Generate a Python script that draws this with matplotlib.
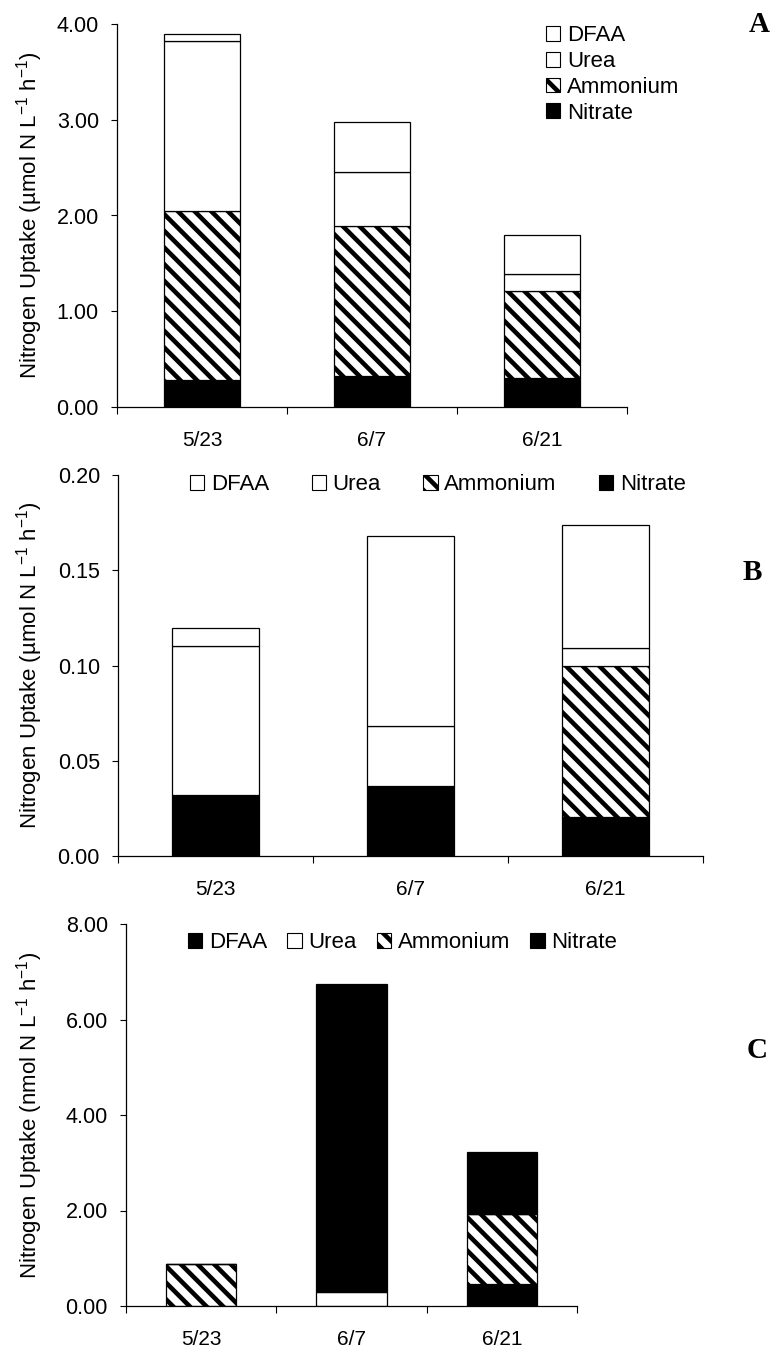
import matplotlib
matplotlib.use("Agg")
import matplotlib.pyplot as plt
from matplotlib.patches import Patch
import numpy as np

plt.rcParams['font.family'] = ['Liberation Sans', 'DejaVu Sans']
plt.rcParams['mathtext.fontset'] = 'custom'
plt.rcParams['mathtext.rm'] = 'Liberation Sans'
plt.rcParams['mathtext.it'] = 'Liberation Sans:italic'
plt.rcParams['hatch.linewidth'] = 3.3

dates = ['5/23', '6/7', '6/21']
series = ['Nitrate', 'Ammonium', 'Urea', 'DFAA']

# panel A: uptake by the total community (umol N L-1 h-1)
a_nitrate = [0.28, 0.32, 0.30]
a_ammonium = [1.77, 1.57, 0.91]
a_urea = [1.77, 0.56, 0.18]
a_dfaa = [0.08, 0.53, 0.41]

# panel B (umol N L-1 h-1)
b_nitrate = [0.032, 0.037, 0.0205]
b_ammonium = [0.0, 0.0, 0.079]
b_urea = [0.078, 0.031, 0.0095]
b_dfaa = [0.0095, 0.100, 0.065]

# panel C (nmol N L-1 h-1)
c_nitrate = [0.0, 0.0, 0.47]
c_ammonium = [0.89, 0.0, 1.46]
c_urea = [0.0, 0.30, 0.0]
c_dfaa = [0.0, 6.44, 1.30]

W, H = 773, 1355
fig = plt.figure(figsize=(W / 100, H / 100), dpi=100)

HATCH = '\\\\'


def px_axes(left, right, top, bottom):
    return fig.add_axes([left / W, 1 - bottom / H, (right - left) / W, (bottom - top) / H])


def stacked(ax, nitrate, ammonium, urea, dfaa, dfaa_color, width=0.45):
    x = np.arange(len(dates))
    styles = [('black', None), ('white', HATCH), ('white', None), (dfaa_color, None)]
    bottom = np.zeros(len(dates))
    for vals, (fc, hatch) in zip([nitrate, ammonium, urea, dfaa], styles):
        ax.bar(x, vals, width, bottom=bottom, color=fc, edgecolor='black',
               linewidth=0.9, hatch=hatch)
        bottom = bottom + np.array(vals)
    ax.set_xlim(-0.5, 2.5)
    ax.set_xticks(x)
    ax.set_xticklabels(dates, fontsize=15)
    ax.set_xticks([-0.5, 0.5, 1.5, 2.5], minor=True)
    ax.tick_params(axis='x', which='major', length=0, pad=17)
    ax.tick_params(axis='x', which='minor', direction='out', length=5, width=0.8)
    ax.tick_params(axis='y', direction='out', length=4, width=0.8, pad=9, labelsize=15.5)
    for s in ['top', 'right']:
        ax.spines[s].set_visible(False)
    for s in ['left', 'bottom']:
        ax.spines[s].set_linewidth(0.9)


def handles(dfaa_color):
    return [Patch(facecolor=dfaa_color, edgecolor='black', linewidth=0.8, label='DFAA'),
            Patch(facecolor='white', edgecolor='black', linewidth=0.8, label='Urea'),
            Patch(facecolor='white', edgecolor='black', linewidth=0.8, hatch=HATCH, label='Ammonium'),
            Patch(facecolor='black', edgecolor='black', linewidth=0.8, label='Nitrate')]


umol = 'Nitrogen Uptake (µmol N L$^{-1}$ h$^{-1}$)'
nmol = 'Nitrogen Uptake (nmol N L$^{-1}$ h$^{-1}$)'
leg_kw = dict(frameon=False, fontsize=16, bbox_transform=fig.transFigure, loc='upper left',
              borderpad=0, borderaxespad=0, handlelength=0.65, handleheight=0.65,
              handletextpad=0.3)

# A
axA = px_axes(117, 627, 24, 407)
stacked(axA, a_nitrate, a_ammonium, a_urea, a_dfaa, 'white')
axA.set_ylim(0, 4)
axA.set_yticks(np.arange(0, 4.01, 1))
axA.set_yticklabels([f'{v:.2f}' for v in np.arange(0, 4.01, 1)])
axA.set_ylabel(umol, fontsize=16)
axA.yaxis.set_label_coords(-0.141, 0.5)
axA.legend(handles=handles('white'), bbox_to_anchor=(546 / W, 1 - 25 / H),
           labelspacing=0.22, **leg_kw)

# B
axB = px_axes(118, 703, 475, 856)
stacked(axB, b_nitrate, b_ammonium, b_urea, b_dfaa, 'white')
axB.set_ylim(0, 0.2)
axB.set_yticks(np.arange(0, 0.201, 0.05))
axB.set_yticklabels([f'{v:.2f}' for v in np.arange(0, 0.201, 0.05)])
axB.set_ylabel(umol, fontsize=16)
axB.yaxis.set_label_coords(-0.125, 0.5)
axB.legend(handles=handles('white'), ncol=4, bbox_to_anchor=(190 / W, 1 - 474 / H),
           columnspacing=1.9, **leg_kw)

# C
axC = px_axes(126, 577, 924, 1306)
stacked(axC, c_nitrate, c_ammonium, c_urea, c_dfaa, 'black', width=0.47)
axC.set_ylim(0, 8)
axC.set_yticks(np.arange(0, 8.01, 2))
axC.set_yticklabels([f'{v:.2f}' for v in np.arange(0, 8.01, 2)])
axC.set_ylabel(nmol, fontsize=16)
axC.yaxis.set_label_coords(-0.18, 0.5)
axC.legend(handles=handles('black'), ncol=4, bbox_to_anchor=(188 / W, 1 - 932 / H),
           columnspacing=0.9, **leg_kw)

for letter, (lx, ly) in zip('ABC', [(759, 25), (752, 572), (757, 1050)]):
    fig.text(lx / W, 1 - ly / H, letter, family='Liberation Serif', fontweight='bold',
             fontsize=21, ha='center', va='center')

fig.savefig('out.png', dpi=100, facecolor='white')
